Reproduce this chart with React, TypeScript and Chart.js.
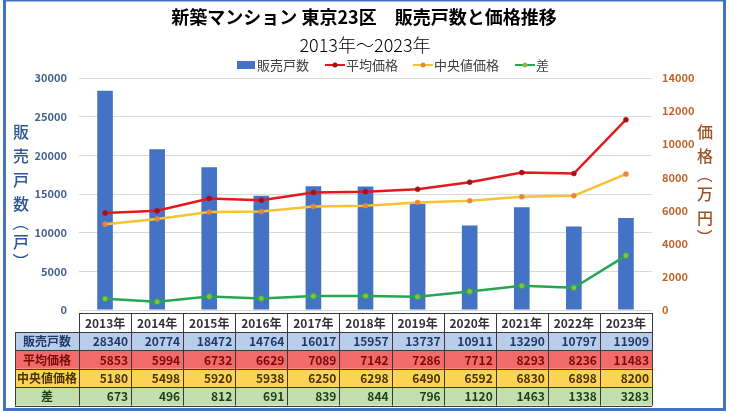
import React, { useEffect, useRef } from "react";
import { Chart, registerables } from "chart.js";

Chart.register(...registerables);

const years = ["2013年", "2014年", "2015年", "2016年", "2017年", "2018年", "2019年", "2020年", "2021年", "2022年", "2023年"];
const units = [28340, 20774, 18472, 14764, 16017, 15957, 13737, 10911, 13290, 10797, 11909];
const avgPrice = [5853, 5994, 6732, 6629, 7089, 7142, 7286, 7712, 8293, 8236, 11483];
const medianPrice = [5180, 5498, 5920, 5938, 6250, 6298, 6490, 6592, 6830, 6898, 8200];
const diff = [673, 496, 812, 691, 839, 844, 796, 1120, 1463, 1338, 3283];

const titleText = "新築マンション 東京23区　販売戸数と価格推移";
const subtitleText = "2013年～2023年";
const leftTitle = "販売戸数（戸）";
const rightTitle = "価格（万円）";
const rowLabels = ["販売戸数", "平均価格", "中央値価格", "差"];
const seriesNames = ["販売戸数", "平均価格", "中央値価格", "差"];

const FONT = "'Noto Sans CJK JP', 'Noto Sans', sans-serif";

const C_BAR = "#4472C4";
const C_AVG = "#E31A1C";
const C_AVG_PT = "#A80F14";
const C_MED = "#F6C332";
const C_MED_PT = "#E8863A";
const C_DIF = "#24A653";
const C_DIF_PT = "#8DBA4C";

const rowBg = ["#B9CDEA", "#F26B6B", "#FFD456", "#C3DFB0"];
const rowFg = ["#1F3A68", "#7A0A0A", "#4A3300", "#1E3F16"];

function drawVertical(ctx: CanvasRenderingContext2D, text: string, x: number, y: number, color: string) {
  ctx.save();
  ctx.fillStyle = color;
  ctx.font = `500 16px ${FONT}`;
  ctx.textAlign = "center";
  ctx.textBaseline = "middle";
  let cy = y;
  const chars = Array.from(text);
  chars.forEach((ch, i) => {
    const isParen = ch === "（" || ch === "）";
    if (i > 0) {
      const prevParen = chars[i - 1] === "（" || chars[i - 1] === "）";
      cy += isParen || prevParen ? 19 : 24;
    }
    if (isParen) {
      ctx.save();
      ctx.translate(x, cy);
      ctx.rotate(Math.PI / 2);
      ctx.fillText(ch, 0, 0);
      ctx.restore();
    } else {
      ctx.fillText(ch, x, cy);
    }
  });
  ctx.restore();
}

const decorPlugin = {
  id: "decor",
  afterDraw(chart: any) {
    const ctx: CanvasRenderingContext2D = chart.ctx;
    const area = chart.chartArea;
    const n = years.length;
    const colW = (area.right - area.left) / n;

    ctx.save();
    // Title
    ctx.fillStyle = "#000";
    ctx.textAlign = "center";
    ctx.textBaseline = "middle";
    ctx.font = `bold 18px ${FONT}`;
    ctx.fillText(titleText, 364, 17);
    ctx.font = `300 18px ${FONT}`;
    ctx.fillText(subtitleText, 365, 45);

    // Legend
    const ly = 65;
    ctx.font = `13px ${FONT}`;
    ctx.textAlign = "left";
    ctx.fillStyle = C_BAR;
    ctx.fillRect(237, ly - 4, 18, 8);
    ctx.fillStyle = "#404040";
    ctx.fillText(seriesNames[0], 257, ly);
    const lineItems = [
      { x: 325, c: C_AVG, p: C_AVG_PT, t: seriesNames[1] },
      { x: 413, c: C_MED, p: C_MED_PT, t: seriesNames[2] },
      { x: 515, c: C_DIF, p: C_DIF_PT, t: seriesNames[3] },
    ];
    lineItems.forEach((it) => {
      ctx.strokeStyle = it.c;
      ctx.lineWidth = 2;
      ctx.beginPath();
      ctx.moveTo(it.x, ly);
      ctx.lineTo(it.x + 20, ly);
      ctx.stroke();
      ctx.fillStyle = it.p;
      ctx.beginPath();
      ctx.arc(it.x + 10, ly, 2.5, 0, Math.PI * 2);
      ctx.fill();
      ctx.fillStyle = "#404040";
      ctx.fillText(it.t, it.x + 21, ly);
    });

    // Axis titles
    drawVertical(ctx, leftTitle, 21, 132, "#2F5597");
    drawVertical(ctx, rightTitle, 705, 132, "#9C5226");

    // Table
    const top = 313;
    const headH = 19;
    const rowH = 18.4;
    const labelL = 15;
    const data = [units, avgPrice, medianPrice, diff];
    for (let r = 0; r < 4; r++) {
      ctx.fillStyle = rowBg[r];
      ctx.fillRect(labelL, top + headH + r * rowH, area.right - labelL, rowH);
    }
    ctx.font = `bold 12px ${FONT}`;
    ctx.textAlign = "center";
    ctx.fillStyle = "#333";
    years.forEach((y, i) => {
      ctx.fillText(y, area.left + colW * (i + 0.5), top + headH / 2 + 0.5);
    });
    for (let r = 0; r < 4; r++) {
      const cy = top + headH + r * rowH + rowH / 2 + 0.5;
      ctx.fillStyle = rowFg[r];
      ctx.textAlign = "center";
      ctx.fillText(rowLabels[r], (labelL + area.left) / 2, cy);
      ctx.textAlign = "right";
      data[r].forEach((v, i) => {
        ctx.fillText(String(v), area.left + colW * (i + 1) - 3, cy);
      });
    }
    ctx.strokeStyle = "#3A3A3A";
    ctx.lineWidth = 1;
    ctx.beginPath();
    const bottom = top + headH + 4 * rowH;
    ctx.moveTo(area.left, top + 0.5);
    ctx.lineTo(area.right, top + 0.5);
    for (let r = 0; r <= 4; r++) {
      const y = Math.round(top + headH + r * rowH) + 0.5;
      ctx.moveTo(labelL, y);
      ctx.lineTo(area.right, y);
    }
    ctx.moveTo(labelL + 0.5, top + headH);
    ctx.lineTo(labelL + 0.5, bottom);
    for (let i = 0; i <= n; i++) {
      const x = Math.round(area.left + colW * i) + 0.5;
      ctx.moveTo(x, top);
      ctx.lineTo(x, bottom);
    }
    ctx.stroke();

    // Frame
    ctx.strokeStyle = C_BAR;
    ctx.lineWidth = 3;
    ctx.strokeRect(4.5, 0, 720, 409.5);
    ctx.restore();
  },
};

const plainTick = (v: any) => String(v);

export default function App() {
  const ref = useRef<HTMLCanvasElement>(null);
  useEffect(() => {
    if (!ref.current) return;
    const chart = new Chart(ref.current, {
      type: "bar",
      data: {
        labels: years,
        datasets: [
          {
            type: "bar",
            label: seriesNames[0],
            data: units,
            backgroundColor: C_BAR,
            yAxisID: "y",
            order: 10,
            barPercentage: 0.3,
            categoryPercentage: 1,
          },
          {
            type: "line",
            label: seriesNames[1],
            data: avgPrice,
            borderColor: C_AVG,
            backgroundColor: C_AVG_PT,
            pointBackgroundColor: C_AVG_PT,
            pointBorderColor: C_AVG_PT,
            pointRadius: 2.5,
            pointBorderWidth: 0.5,
            borderWidth: 2.5,
            yAxisID: "y1",
            order: 1,
          },
          {
            type: "line",
            label: seriesNames[2],
            data: medianPrice,
            borderColor: C_MED,
            backgroundColor: C_MED_PT,
            pointBackgroundColor: C_MED_PT,
            pointBorderColor: C_MED_PT,
            pointRadius: 2.5,
            pointBorderWidth: 0.5,
            borderWidth: 2.5,
            yAxisID: "y1",
            order: 2,
          },
          {
            type: "line",
            label: seriesNames[3],
            data: diff,
            borderColor: C_DIF,
            backgroundColor: C_DIF_PT,
            pointBackgroundColor: C_DIF_PT,
            pointBorderColor: C_DIF,
            pointBorderWidth: 1,
            pointRadius: 3,
            borderWidth: 2.5,
            yAxisID: "y1",
            order: 3,
          },
        ] as any,
      },
      options: {
        responsive: false,
        animation: false,
        layout: { padding: { top: 78, bottom: 101, left: 0, right: 0 } },
        plugins: {
          legend: { display: false },
          title: { display: false },
          tooltip: { enabled: false },
        },
        scales: {
          x: {
            display: false,
          },
          y: {
            position: "left",
            min: 0,
            max: 30000,
            ticks: {
              stepSize: 5000,
              padding: 12,
              color: "#44618F",
              font: { family: FONT, size: 11, weight: "bold" },
              callback: plainTick,
            },
            grid: { color: "#D9D9D9", drawTicks: false, lineWidth: 1 },
            border: { display: false },
            afterFit: (s: any) => {
              s.width = 79;
            },
          },
          y1: {
            position: "right",
            min: 0,
            max: 14000,
            ticks: {
              stepSize: 2000,
              padding: 10,
              color: "#C0652A",
              font: { family: FONT, size: 11, weight: "bold" },
              callback: plainTick,
            },
            grid: { display: false, drawTicks: false },
            border: { display: false },
            afterFit: (s: any) => {
              s.width = 78;
            },
          },
        },
      } as any,
      plugins: [decorPlugin],
    });
    return () => chart.destroy();
  }, []);
  return (
    <div style={{ position: "fixed", left: 0, top: 0, width: 730, height: 411, background: "#fff" }}>
      <canvas ref={ref} width={730} height={411} style={{ width: 730, height: 411 }} />
    </div>
  );
}
